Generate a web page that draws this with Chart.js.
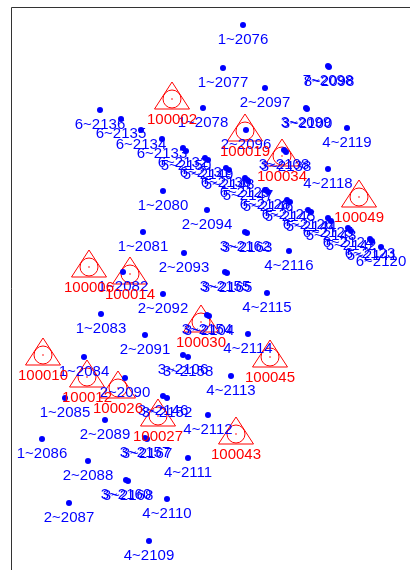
<!DOCTYPE html>
<html>
<head>
<meta charset="utf-8">
<script src="https://cdn.jsdelivr.net/npm/chart.js@4/dist/chart.umd.min.js"></script>
<style>
  body { margin: 0; background: #fff; }
  #contenedor { width: 410px; height: 570px; }
</style>
</head>
<body>
<div id="contenedor"><canvas id="miGrafico" width="410" height="570"></canvas></div>
<script>
// Sitios (puntos azules): etiqueta, eje 1, eje 2
var etiquetas_sitios = [
  '1~2076', '1~2077', '7~2098', '8~2098', '2~2097', '3~2099', '3~2100', '4~2119',
  '1~2078', '2~2096', '3~2108', '3~2138', '4~2118',
  '6~2136', '6~2135', '6~2134', '6~2133', '6~2132', '6~2131', '6~2130', '6~2129',
  '6~2128', '6~2127', '6~2126', '6~2125', '6~2124', '6~2123', '6~2120',
  '5~2150', '5~2149', '5~2148', '5~2147', '5~2146', '5~2145', '5~2144', '5~2143',
  '5~2142', '5~2141',
  '1~2080', '2~2094', '1~2081', '3~2162', '3~2163', '2~2093', '4~2116', '3~2155',
  '3~2165', '1~2082', '4~2115', '2~2092', '1~2083', '2~2091', '3~2154', '3~2104',
  '4~2114', '1~2084', '3~2106', '3~2158', '4~2113', '2~2090', '1~2085', '3~2146',
  '3~2152', '4~2112', '2~2089', '1~2086', '3~2157', '3~2167', '4~2111', '2~2088',
  '3~2160', '3~2168', '4~2110', '2~2087', '4~2109'
];
var x_sitios = [
  0.38, 0.18, 1.23, 1.24, 0.60, 1.01, 1.02, 1.42,
  -0.02, 0.41, 0.79, 0.81, 1.23,
  -1.05, -0.84, -0.64, -0.43, -0.22, 0.00, 0.21, 0.40,
  0.60, 0.82, 1.03, 1.23, 1.43, 1.65, 1.76,
  -0.19, 0.03, 0.24, 0.43, 0.63, 0.85, 1.06, 1.26,
  1.46, 1.67,
  -0.42, 0.02, -0.62, 0.40, 0.42, -0.21, 0.84, 0.20,
  0.22, -0.82, 0.62, -0.42, -1.04, -0.60, 0.02, 0.04,
  0.43, -1.21, -0.22, -0.17, 0.26, -0.80, -1.40, -0.42,
  -0.38, 0.03, -1.00, -1.63, -0.60, -0.58, -0.17, -1.17,
  -0.79, -0.77, -0.38, -1.36, -0.56
];
var y_sitios = [
  2.60, 2.17, 2.19, 2.18, 1.97, 1.77, 1.76, 1.57,
  1.77, 1.55, 1.35, 1.33, 1.16,
  1.75, 1.66, 1.55, 1.46, 1.37, 1.27, 1.17, 1.07,
  0.95, 0.85, 0.75, 0.67, 0.57, 0.46, 0.38,
  1.34, 1.25, 1.15, 1.04, 0.93, 0.83, 0.73, 0.64,
  0.54, 0.44,
  0.94, 0.75, 0.53, 0.53, 0.52, 0.32, 0.34, 0.13,
  0.12, 0.13, -0.08, -0.09, -0.29, -0.50, -0.30, -0.31,
  -0.49, -0.72, -0.70, -0.72, -0.91, -0.93, -1.13, -1.11,
  -1.13, -1.30, -1.35, -1.54, -1.53, -1.54, -1.73, -1.76,
  -1.95, -1.96, -2.14, -2.18, -2.56
];

// Referencias (triángulos rojos)
var etiquetas_ref = ['100002', '100019', '100034', '100049', '100006', '100014', '100030',
  '100010', '100012', '100026', '100027', '100043', '100045'];
var x_ref = [-0.33, 0.40, 0.77, 1.54, -1.16, -0.75, -0.04, -1.62, -1.18, -0.87, -0.47, 0.31, 0.65];
var y_ref = [1.86, 1.54, 1.29, 0.88, 0.18, 0.11, -0.37, -0.70, -0.92, -1.03, -1.31, -1.49, -0.72];

function armar_puntos(xs, ys) {
  var puntos = [];
  xs.forEach((x, i) => {
    puntos.push({ x: x, y: ys[i] });
  });
  return puntos;
}

// Símbolo rojo: triángulo con círculo y punto al centro
function simbolo_ref() {
  var c = document.createElement('canvas');
  c.width = 38;
  c.height = 36;
  var g = c.getContext('2d');
  g.strokeStyle = '#ff0000';
  g.fillStyle = '#ff0000';
  g.lineWidth = 1;
  g.beginPath();
  g.moveTo(19, 1);
  g.lineTo(36.5, 28);
  g.lineTo(1.5, 28);
  g.closePath();
  g.stroke();
  g.beginPath();
  g.arc(19, 18, 9, 0, Math.PI * 2);
  g.stroke();
  g.beginPath();
  g.arc(19, 18, 0.8, 0, Math.PI * 2);
  g.fill();
  return c;
}

// Marco superior e izquierdo
const marcoPlugin = {
  id: 'marco',
  beforeDatasetsDraw(chart) {
    const a = chart.chartArea;
    const ctx = chart.ctx;
    ctx.save();
    ctx.strokeStyle = '#333';
    ctx.lineWidth = 1;
    ctx.beginPath();
    ctx.moveTo(a.right, a.top + 0.5);
    ctx.lineTo(a.left + 0.5, a.top + 0.5);
    ctx.lineTo(a.left + 0.5, a.bottom);
    ctx.stroke();
    ctx.restore();
  }
};

// Etiquetas debajo de cada punto
const etiquetasPlugin = {
  id: 'etiquetas',
  afterDatasetsDraw(chart) {
    const ctx = chart.ctx;
    ctx.save();
    ctx.font = '15px "Liberation Sans", Arial, sans-serif';
    ctx.textAlign = 'center';
    ctx.textBaseline = 'middle';
    chart.data.datasets.forEach((ds, i) => {
      if (!ds.etiquetas) return;
      const meta = chart.getDatasetMeta(i);
      ctx.fillStyle = ds.colorTexto;
      meta.data.forEach((p, j) => {
        ctx.fillText(ds.etiquetas[j], p.x, p.y + ds.desfase);
      });
    });
    ctx.restore();
  }
};

const ctx = document.getElementById('miGrafico');
window.miGrafico = new Chart(ctx, {
  type: 'scatter',
  data: {
    datasets: [{
      label: 'Sitios',
      data: armar_puntos(x_sitios, y_sitios),
      etiquetas: etiquetas_sitios,
      colorTexto: '#0000ff',
      desfase: 15,
      pointRadius: 3,
      pointBackgroundColor: '#0000ff',
      pointBorderWidth: 0,
      clip: false
    }, {
      label: 'Referencias',
      data: armar_puntos(x_ref, y_ref),
      etiquetas: etiquetas_ref,
      colorTexto: '#ff0000',
      desfase: 21,
      pointStyle: simbolo_ref(),
      clip: false
    }]
  },
  options: {
    responsive: false,
    animation: false,
    layout: {
      autoPadding: false,
      padding: { left: 11, top: 7, right: 0, bottom: 0 }
    },
    plugins: {
      legend: { display: false },
      tooltip: { enabled: false }
    },
    scales: {
      x: { type: 'linear', display: false, min: -1.94, max: 2.05 },
      y: { type: 'linear', display: false, min: -2.85, max: 2.78 }
    }
  },
  plugins: [marcoPlugin, etiquetasPlugin]
});
</script>
</body>
</html>
